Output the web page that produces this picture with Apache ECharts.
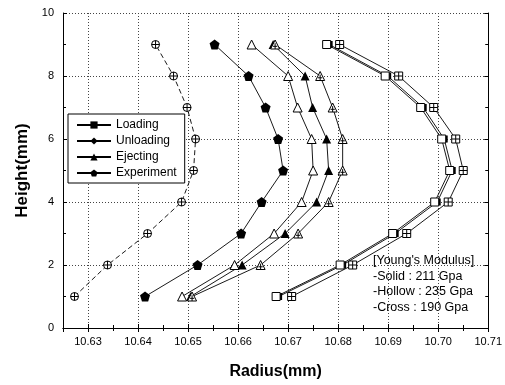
<!DOCTYPE html>
<html>
<head>
<meta charset="utf-8">
<script src="https://cdn.jsdelivr.net/npm/echarts@6/dist/echarts.min.js"></script>
<style>
  html, body { margin: 0; padding: 0; background: #fff; }
  #chart { width: 505px; height: 385px; }
</style>
</head>
<body>
<div id="chart"></div>
<script>
// heights (mm) at which the radius was measured
const heights = [1, 2, 3, 4, 5, 6, 7, 8, 9];

// radius (mm), bottom to top
const unloadingCross = [10.6273, 10.6339, 10.6419, 10.6487, 10.6511, 10.6515, 10.6498, 10.6471, 10.6435];
const experiment     = [10.6414, 10.6519, 10.6606, 10.6647, 10.6690, 10.6680, 10.6655, 10.6621, 10.6553];
const ejectHollow    = [10.6488, 10.6593, 10.6672, 10.6727, 10.6750, 10.6747, 10.6719, 10.6700, 10.6627];
const ejectSolid     = [10.6505, 10.6608, 10.6694, 10.6757, 10.6781, 10.6777, 10.6749, 10.6734, 10.6670];
const ejectCross     = [10.6508, 10.6645, 10.6720, 10.6781, 10.6809, 10.6809, 10.6789, 10.6764, 10.6674];
const loadHollow     = [10.6676, 10.6804, 10.6909, 10.6993, 10.7023, 10.7007, 10.6965, 10.6894, 10.6777];
const loadSolid      = [10.6681, 10.6809, 10.6914, 10.6998, 10.7028, 10.7012, 10.6970, 10.6899, 10.6782];
const loadCross      = [10.6707, 10.6829, 10.6937, 10.7020, 10.7050, 10.7035, 10.6991, 10.6921, 10.6803];

const legendNames = ['Loading', 'Unloading', 'Ejecting', 'Experiment'];
const noteLines = ["[Young's Modulus]", '-Solid : 211 Gpa', '-Hollow : 235 Gpa', '-Cross : 190 Gpa'];

const FONT = '"Liberation Sans", Arial, sans-serif';

const SYM = {
    crossSquare: 'path://M0,0H10V10H0Z M5,0V10 M0,5H10',
    crossTri: 'path://M5,0L10,10H0Z M5,3.5V10 M2.6,7H7.4',
    crossCircle: 'path://M0,5A5,5 0 1,1 10,5A5,5 0 1,1 0,5Z M5,0V10 M0,5H10',
    pentagon: 'path://M5,0L10,3.8L8.1,10H1.9L0,3.8Z'
};

function pts(vals) {
    return vals.map((v, i) => [v, heights[i]]);
}

function line(name, vals, symbol, size, hollow, dash) {
    return {
        name: name,
        type: 'line',
        data: pts(vals),
        symbol: symbol,
        symbolSize: size,
        symbolKeepAspect: true,
        showSymbol: true,
        lineStyle: { color: '#000', width: 0.9, type: dash || 'solid' },
        itemStyle: {
            color: hollow ? '#fff' : '#000',
            borderColor: '#000',
            borderWidth: hollow ? 1 : 0
        },
        emphasis: { disabled: true },
        z: 3
    };
}

// legend-only entries
function legendSeries(name, symbol) {
    return {
        name: name,
        type: 'line',
        data: [],
        symbol: symbol,
        symbolSize: 9,
        lineStyle: { color: '#000', width: 1 },
        itemStyle: { color: '#000' }
    };
}

const chart = echarts.init(document.getElementById('chart'));

const axisCommon = {
    type: 'value',
    axisLine: { show: true, lineStyle: { color: '#000', width: 1 } },
    axisTick: { show: true, inside: true, length: 4, lineStyle: { color: '#000' } },
    minorTick: { show: true, splitNumber: 2, length: 3, lineStyle: { color: '#000' } }
};

chart.setOption({
    animation: false,
    backgroundColor: '#fff',
    grid: { left: 63, right: 16, top: 13, bottom: 55, containLabel: false },
    legend: {
        data: legendNames,
        orient: 'vertical',
        left: 68,
        top: 114,
        itemWidth: 34,
        itemHeight: 9,
        itemGap: 4,
        padding: [5, 8, 4, 8],
        borderColor: '#000',
        borderWidth: 1,
        backgroundColor: '#fff',
        selectedMode: false,
        textStyle: { fontFamily: FONT, fontSize: 12, color: '#000' }
    },
    xAxis: [
        Object.assign({}, axisCommon, {
            position: 'bottom',
            min: 10.625,
            max: 10.71,
            splitNumber: 8,
            name: 'Radius(mm)',
            nameLocation: 'middle',
            nameGap: 36,
            nameTextStyle: { fontFamily: FONT, fontSize: 16, fontWeight: 'bold', color: '#000' },
            axisLabel: {
                fontFamily: FONT, fontSize: 11, color: '#000', margin: 8,
                formatter: v => (Math.abs(v * 100 - Math.round(v * 100)) < 1e-6 ? v.toFixed(2) : '')
            },
            splitLine: { show: true, lineStyle: { color: '#444', type: [1, 2], width: 1 } }
        }),
        Object.assign({}, axisCommon, {
            position: 'top',
            min: 10.625,
            max: 10.71,
            splitNumber: 8,
            axisLabel: { show: false },
            splitLine: { show: false }
        })
    ],
    yAxis: [
        Object.assign({}, axisCommon, {
            position: 'left',
            min: 0,
            max: 10,
            interval: 2,
            name: 'Height(mm)',
            nameLocation: 'middle',
            nameGap: 32,
            nameTextStyle: { fontFamily: FONT, fontSize: 17, fontWeight: 'bold', color: '#000' },
            axisLabel: { fontFamily: FONT, fontSize: 11, color: '#000', margin: 9 },
            splitLine: { show: true, lineStyle: { color: '#444', type: [1, 2], width: 1 } }
        }),
        Object.assign({}, axisCommon, {
            position: 'right',
            min: 0,
            max: 10,
            interval: 2,
            axisLabel: { show: false },
            splitLine: { show: false }
        })
    ],
    graphic: noteLines.map((t, i) => ({
        type: 'text',
        left: 373,
        top: 254 + i * 15.7,
        style: { text: t, fontFamily: FONT, fontSize: 12.5, fill: '#000' }
    })),
    series: [
        line('unloading', unloadingCross, SYM.crossCircle, 8, true, [5, 3]),
        line('experiment', experiment, SYM.pentagon, 10, false),
        line('ejectHollow', ejectHollow, 'triangle', 9, true),
        line('ejectSolid', ejectSolid, 'triangle', 9, false),
        line('ejectCross', ejectCross, SYM.crossTri, 9, true),
        line('loadSolid', loadSolid, 'rect', 7, false),
        line('loadHollow', loadHollow, 'rect', 8, true),
        line('loadCross', loadCross, SYM.crossSquare, 8, true),
        legendSeries('Loading', 'rect'),
        legendSeries('Unloading', 'diamond'),
        legendSeries('Ejecting', 'triangle'),
        legendSeries('Experiment', SYM.pentagon)
    ]
});
</script>
</body>
</html>
